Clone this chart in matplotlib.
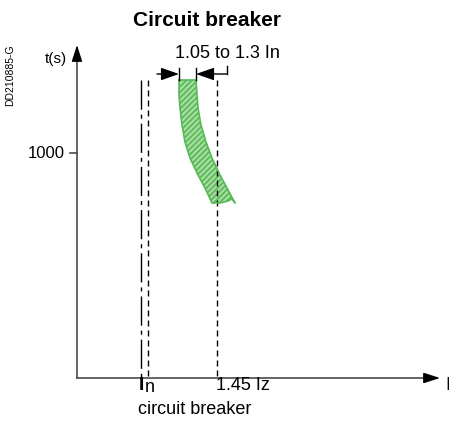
import matplotlib.pyplot as plt

plt.rcParams['font.family'] = ['Liberation Sans', 'DejaVu Sans']

# coordinates (pixels, y pointing down)
axis_origin = (77, 378)
y_axis_top = 45
x_axis_right = 440
tick_1000_y = 153

in_line_x = 141          # dash-dot, In
cb_line_x = 148          # dashed, just right of In
iz_line_x = 217          # dashed, 1.45 Iz
lines_top = 80

# green tripping band
band_left_x = [179, 179, 180, 182, 185, 190, 198, 205, 212]
band_left_y = [80, 95, 108, 125, 142, 158, 175, 188, 203]
band_right_x = [196, 197, 198, 201, 206, 212, 220, 227, 235]
band_right_y = [80, 95, 108, 125, 142, 158, 175, 188, 203]
band_bottom_x = [232, 228, 220]
band_bottom_y = [199, 201, 203]

fig = plt.figure(figsize=(4.49, 4.21), dpi=100)
ax = fig.add_axes([0, 0, 1, 1])
ax.set_xlim(0, 449)
ax.set_ylim(421, 0)
ax.axis('off')

ox, oy = axis_origin
axcol = '#4a4a4a'

# axes with arrowheads
ax.plot([ox, ox], [oy, y_axis_top + 10], color=axcol, lw=1.2)
ax.plot([ox, x_axis_right - 10], [oy, oy], color=axcol, lw=1.2)
head = dict(arrowstyle='-|>,head_length=1.0,head_width=0.32', color='black',
            lw=1.0, shrinkA=0, shrinkB=0, mutation_scale=10)
ax.annotate('', xy=(ox, y_axis_top), xytext=(ox, y_axis_top + 12), arrowprops=head)
ax.annotate('', xy=(x_axis_right, oy), xytext=(x_axis_right - 12, oy), arrowprops=head)

# 1000 tick
ax.plot([ox - 7, ox], [tick_1000_y, tick_1000_y], color=axcol, lw=1.2)
ax.text(ox - 12, tick_1000_y, '1000', ha='right', va='center', fontsize=12)

# vertical reference lines
ax.plot([in_line_x, in_line_x], [lines_top, oy], color='black', lw=1.0,
        linestyle=(0, (21, 3.6, 2.9, 3.6)))
ax.plot([cb_line_x, cb_line_x], [lines_top, oy], color='black', lw=1.0,
        linestyle=(0, (4.3, 2.9)))
ax.plot([iz_line_x, iz_line_x], [lines_top, oy], color='black', lw=1.0,
        linestyle=(0, (4.3, 2.9)))

# band
poly_x = band_left_x + band_bottom_x[::-1] + band_right_x[::-1]
poly_y = band_left_y + band_bottom_y[::-1] + band_right_y[::-1]
plt.rcParams['hatch.linewidth'] = 1.2
ax.fill(poly_x, poly_y, facecolor='#a9dca3', edgecolor='#55b955', hatch='//////', lw=0)
ax.plot(poly_x + [poly_x[0]], poly_y + [poly_y[0]], color='#55b955', lw=1.2)

# dimension arrows 1.05 to 1.3 In
dim_y = 74
ax.plot([band_left_x[0], band_left_x[0]], [68, lines_top], color='black', lw=1.0)
ax.plot([band_right_x[0], band_right_x[0]], [68, lines_top], color='black', lw=1.0)
dhead = dict(arrowstyle='-|>,head_length=1.0,head_width=0.35', color='black',
             lw=1.0, shrinkA=0, shrinkB=0, mutation_scale=11)
ax.annotate('', xy=(band_left_x[0], dim_y), xytext=(157, dim_y), arrowprops=dhead)
ax.annotate('', xy=(band_right_x[0], dim_y), xytext=(227, dim_y), arrowprops=dhead)
ax.plot([227, 227], [dim_y, 66], color='black', lw=1.0)

# texts
ax.text(207, 20, 'Circuit breaker', ha='center', va='center', fontsize=15, fontweight='bold')
ax.text(175, 53, '1.05 to 1.3 In', ha='left', va='center', fontsize=13)
ax.text(45, 59, 't(s)', ha='left', va='center', fontsize=11)
ax.text(10, 75, 'DD210885-G', ha='center', va='center', rotation=90, fontsize=7.5)
ax.text(139, 386, 'I', ha='left', va='center', fontsize=14, fontweight='bold')
ax.text(145, 387, 'n', ha='left', va='center', fontsize=13)
ax.text(216, 386, '1.45 Iz', ha='left', va='center', fontsize=13)
ax.text(195, 410, 'circuit breaker', ha='center', va='center', fontsize=13)
ax.text(445, 386, 'I', ha='left', va='center', fontsize=13)

fig.savefig('out.png', dpi=100)
